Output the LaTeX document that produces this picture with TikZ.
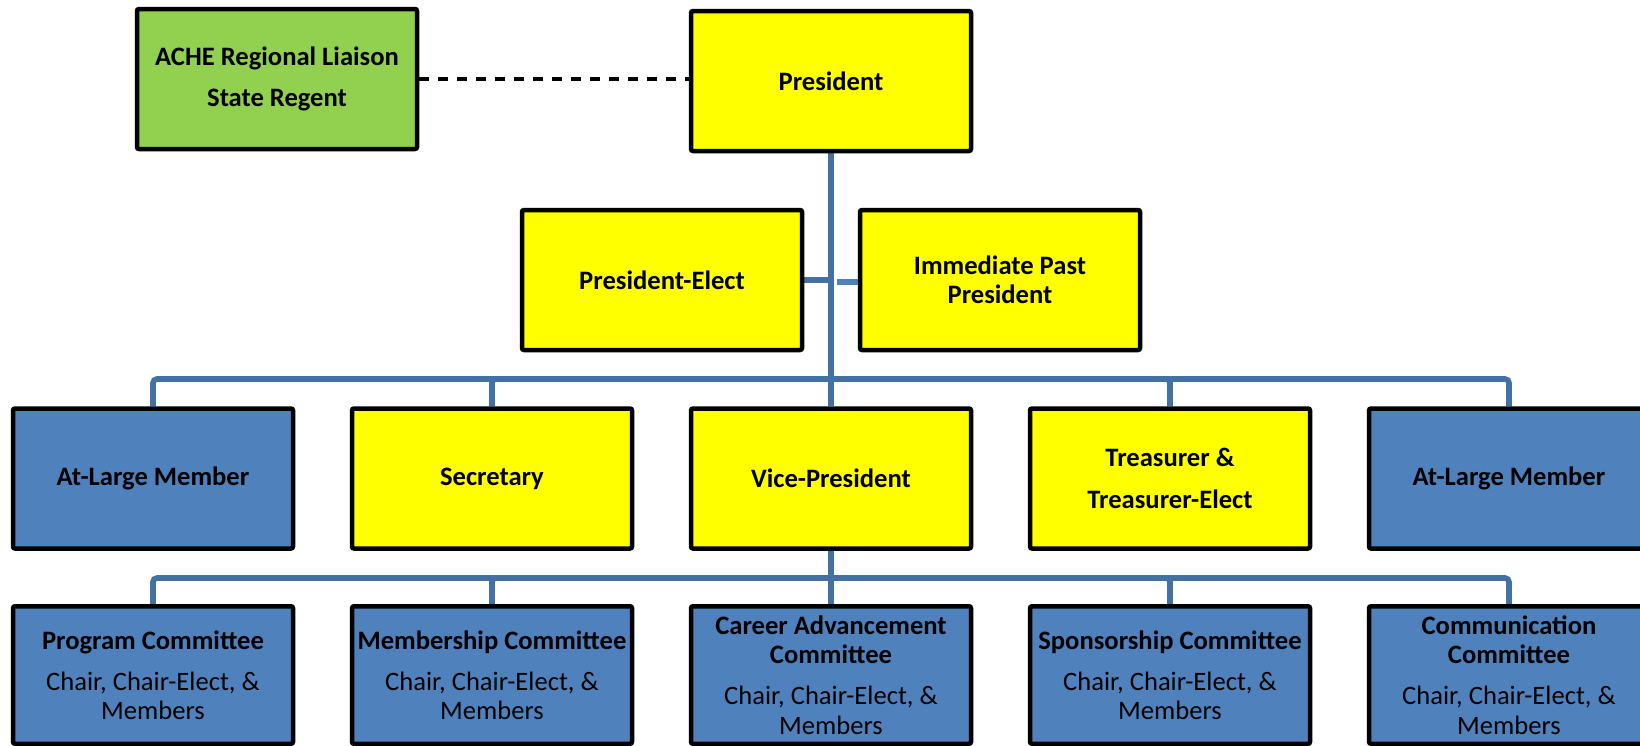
\documentclass[tikz,border=0pt]{standalone}
\usepackage{fontspec}
\setmainfont{Carlito}
\usetikzlibrary{backgrounds}

\definecolor{officeryellow}{RGB}{255,255,0}
\definecolor{liaisongreen}{RGB}{146,208,80}
\definecolor{memberblue}{RGB}{79,129,189}
\definecolor{linkblue}{RGB}{68,113,164}

\tikzset{
  office/.style={draw=black,line width=2.25pt,rounded corners=1pt,
    minimum width=140pt,minimum height=70pt,inner sep=0pt,align=center,
    font=\fontsize{13.3}{14.6}\selectfont\bfseries},
  officer/.style={office,fill=officeryellow},
  member/.style={office,fill=memberblue},
  liaison/.style={office,fill=liaisongreen},
  committee/.style={office,fill=memberblue,minimum height=68.75pt,
    font=\fontsize{13.3}{14.6}\selectfont},
  orgline/.style={draw=linkblue,line width=2.8pt,rounded corners=2pt},
  stubline/.style={draw=memberblue,line width=3pt},
  dashlink/.style={draw=black,line width=1.6pt,dash pattern=on 5pt off 4.5pt}
}

\begin{document}
\begin{tikzpicture}[x=0.5pt,y=-0.5pt]
  \useasboundingbox (0,0) rectangle (1640,745);

  % top
  \node[liaison] (ache) at (277,79) {ACHE Regional Liaison\\[6pt]State Regent};
  \node[officer] (pres) at (831,81) {President};

  % president-elect and past president
  \node[officer] (elect) at (662,280) {President-Elect};
  \node[officer] (past) at (1000,280) {Immediate Past\\President};

  % board
  \node[member] (atlarge1) at (153,478.5) {At-Large Member};
  \node[officer] (sec) at (492,478.5) {Secretary};
  \node[officer] (vp) at (831,478.5) {Vice-President};
  \node[officer] (treas) at (1170,478.5) {Treasurer \&\\[6pt]Treasurer-Elect};
  \node[member] (atlarge2) at (1509,478.5) {At-Large Member};

  % committees
  \node[committee] (program) at (153,675)
    {\textbf{Program Committee}\\[6pt]Chair, Chair-Elect, \&\\Members};
  \node[committee] (membership) at (492,675)
    {\textbf{Membership Committee}\\[6pt]Chair, Chair-Elect, \&\\Members};
  \node[committee] (career) at (831,675)
    {\textbf{Career Advancement}\\\textbf{Committee}\\[6pt]Chair, Chair-Elect, \&\\Members};
  \node[committee] (sponsor) at (1170,675)
    {\textbf{Sponsorship Committee}\\[6pt]Chair, Chair-Elect, \&\\Members};
  \node[committee] (comm) at (1509,675)
    {\textbf{Communication}\\\textbf{Committee}\\[6pt]Chair, Chair-Elect, \&\\Members};

  \coordinate (bus1) at (831,379);
  \coordinate (bus2) at (831,578);
  \coordinate (pastgap) at (837,282);

  \begin{scope}[on background layer]
    \draw[dashlink] (ache.east) -- (ache.east -| pres.west);
    \draw[orgline] (pres.south) -- (vp.north);
    \draw[orgline] (vp.south) -- (career.north);
    \draw[orgline] (elect.east) -- (elect.east -| pres.south);
    \draw[stubline] (pastgap) -- (pastgap -| past.west);
    \foreach \n in {atlarge1,sec,treas,atlarge2}
      \draw[orgline] (\n.north) |- (bus1);
    \foreach \n in {program,membership,sponsor,comm}
      \draw[orgline] (\n.north) |- (bus2);
  \end{scope}
\end{tikzpicture}
\end{document}
